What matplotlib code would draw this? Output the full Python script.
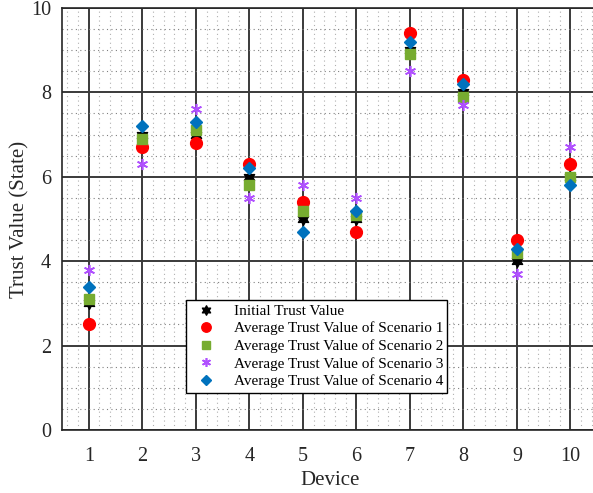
import matplotlib.pyplot as plt
import numpy as np
from matplotlib.path import Path

devices = np.arange(1, 11)
initial = [3.0, 7.0, 7.0, 6.0, 5.0, 5.0, 9.0, 8.0, 4.0, 6.0]
scenario1 = [2.5, 6.7, 6.8, 6.3, 5.4, 4.7, 9.4, 8.3, 4.5, 6.3]
scenario2 = [3.1, 6.9, 7.1, 5.8, 5.2, 5.1, 8.9, 7.9, 4.2, 6.0]
scenario3 = [3.8, 6.3, 7.6, 5.5, 5.8, 5.5, 8.5, 7.7, 3.7, 6.7]
scenario4 = [3.4, 7.2, 7.3, 6.2, 4.7, 5.2, 9.2, 8.2, 4.3, 5.8]

labels = [
    "Initial Trust Value",
    "Average Trust Value of Scenario 1",
    "Average Trust Value of Scenario 2",
    "Average Trust Value of Scenario 3",
    "Average Trust Value of Scenario 4",
]

plt.rcParams["font.family"] = ["Liberation Serif", "DejaVu Serif"]


def hexagram():
    ang = np.pi / 2 + np.arange(12) * np.pi / 6
    r = np.where(np.arange(12) % 2 == 0, 1.0, 0.55)
    verts = np.column_stack([r * np.cos(ang), r * np.sin(ang)])
    verts = np.vstack([verts, verts[:1]])
    codes = [Path.MOVETO] + [Path.LINETO] * 11 + [Path.CLOSEPOLY]
    return Path(verts, codes)


fig = plt.figure(figsize=(5.93, 4.93), dpi=100)
ax = fig.add_axes([0.1046, 0.1278, 0.9024, 0.856])

ax.plot(devices, initial, linestyle="none", marker=hexagram(), color="black",
        markersize=8.5, label=labels[0], zorder=3)
ax.plot(devices, scenario1, linestyle="none", marker="o", color="#FF0000",
        markersize=8.5, label=labels[1], zorder=3)
ax.plot(devices, scenario2, linestyle="none", marker="s", color="#77AC30",
        markersize=6.5, label=labels[2], zorder=3)
ax.plot(devices, scenario3, linestyle="none", marker=(6, 2, 0), color="#B050FF",
        markersize=8, markeredgewidth=1.2, label=labels[3], zorder=3)
ax.plot(devices, scenario4, linestyle="none", marker="D", color="#0072BD",
        markersize=6.5, label=labels[4], zorder=3)

ax.set_xlim(0.5, 10.5)
ax.set_ylim(0, 10)
ax.set_xticks(devices)
ax.set_yticks(np.arange(0, 11, 2))
ax.set_xticks(np.arange(0.6, 10.5, 0.2), minor=True)
ax.set_yticks(np.arange(0, 10.01, 0.5), minor=True)

ax.set_axisbelow(True)
ax.grid(True, which="major", color="#3a3a3a", linewidth=1.4, linestyle="-")
ax.grid(True, which="minor", axis="x", color="#b0b0b0", linewidth=0.8, linestyle=(0, (1, 3)))
ax.grid(True, which="minor", axis="y", color="#808080", linewidth=0.8, linestyle=(0, (1, 3)))

ax.tick_params(which="both", length=0, labelsize=14.5, colors="#262626")
ax.tick_params(axis="x", pad=12)
ax.tick_params(axis="y", pad=8)
for sp in ax.spines.values():
    sp.set_color("#262626")
    sp.set_linewidth(1.2)

ax.set_xlabel("Device", fontsize=15, labelpad=4, color="#262626")
ax.set_ylabel("Trust Value (State)", fontsize=15, labelpad=1, color="#262626")

leg = ax.legend(loc="lower left", bbox_to_anchor=(0.232, 0.088), borderaxespad=0,
                fontsize=11, frameon=True, fancybox=False, edgecolor="black",
                framealpha=1, handletextpad=0.8, borderpad=0.3, labelspacing=0.25,
                handlelength=2.0, numpoints=1)
leg.get_frame().set_linewidth(1.0)
for h in leg.legend_handles:
    h.set_markersize(h.get_markersize() * 0.8)

fig.savefig("out.png", dpi=100)
